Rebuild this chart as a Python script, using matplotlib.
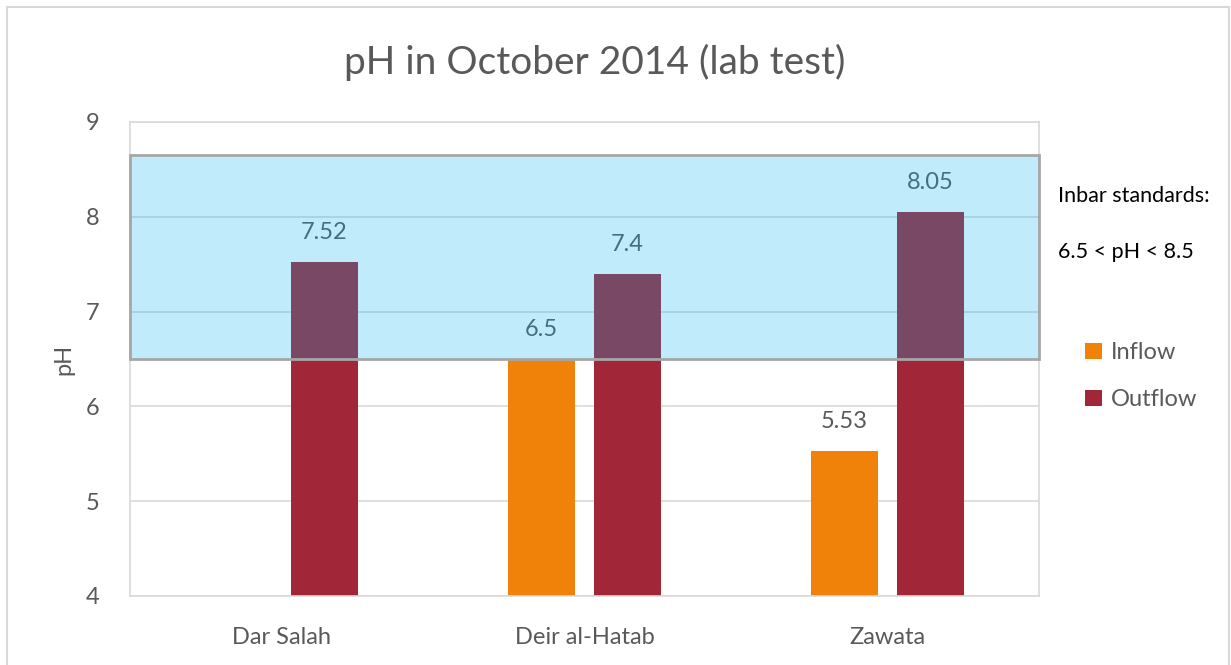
import numpy as np
import matplotlib
matplotlib.use("Agg")
import matplotlib.pyplot as plt
from matplotlib.patches import Rectangle

sites = ["Dar Salah", "Deir al-Hatab", "Zawata"]
inflow = [np.nan, 6.5, 5.53]
outflow = [7.52, 7.4, 8.05]
inflow_labels = ["", "6.5", "5.53"]
outflow_labels = ["7.52", "7.4", "8.05"]
std_low, std_high = 6.5, 8.65
yticks = [4, 5, 6, 7, 8, 9]

plt.rcParams['font.family'] = ['Lato', 'DejaVu Sans']
grey = '#595959'
c_in = '#F0820A'
c_out = '#A12637'

fig = plt.figure(figsize=(12.31, 6.65), dpi=100)
ax = fig.add_axes([130/1231, 69/665, 909/1231, 474/665])

x = np.arange(len(sites))
w = 0.22
off = 0.142
ax.bar(x - off, inflow, w, color=c_in, label='Inflow', zorder=2)
ax.bar(x + off, outflow, w, color=c_out, label='Outflow', zorder=2)

for i in range(len(sites)):
    if inflow_labels[i]:
        ax.text(x[i] - off, inflow[i] + 0.2, inflow_labels[i], ha='center', va='bottom',
                fontsize=17, color=grey, zorder=3)
    ax.text(x[i] + off, outflow[i] + 0.2, outflow_labels[i], ha='center', va='bottom',
            fontsize=17, color=grey, zorder=3)

# standards band drawn over bars and labels
band = Rectangle((-0.5, std_low), 3.0, std_high - std_low,
                 facecolor=(0.0, 0.69, 0.94, 0.25), edgecolor='#A6A6A6',
                 linewidth=2, zorder=5, clip_on=False)
ax.add_patch(band)

ax.set_xlim(-0.5, 2.5)
ax.set_ylim(4, 9)
ax.set_yticks(yticks)
ax.set_xticks(x)
ax.set_xticklabels(sites)
ax.tick_params(axis='both', length=0, labelsize=17, labelcolor=grey)
ax.tick_params(axis='y', pad=22)
ax.tick_params(axis='x', pad=22)
ax.grid(axis='y', color='#D9D9D9', linewidth=1.2, zorder=0)
ax.set_axisbelow(True)
for s in ax.spines.values():
    s.set_color('#D9D9D9')
    s.set_linewidth(1.2)

ax.set_ylabel('pH', fontsize=17, color=grey, labelpad=8)
fig.text(595/1231, 1 - 62/665, 'pH in October 2014 (lab test)', ha='center', va='center',
         fontsize=28, color=grey)

fig.text(1058/1231, 1 - 196/665, 'Inbar standards:', ha='left', va='center',
         fontsize=15.5, color='black')
fig.text(1058/1231, 1 - 252/665, '6.5 < pH < 8.5', ha='left', va='center',
         fontsize=15.5, color='black')

leg = ax.legend(loc='upper left', bbox_to_anchor=(1064/1231, 1 - 321/665),
                bbox_transform=fig.transFigure, frameon=False, fontsize=17,
                labelcolor=grey, handlelength=0.7, handleheight=0.7,
                handletextpad=0.4, labelspacing=1.1)

frame = Rectangle((7/1231, -0.01), 1222/1231, 1 - 7/665 + 0.01, transform=fig.transFigure,
                  fill=False, edgecolor='#D9D9D9', linewidth=1.5)
fig.add_artist(frame)

fig.savefig('out.png', dpi=100, facecolor='white')
